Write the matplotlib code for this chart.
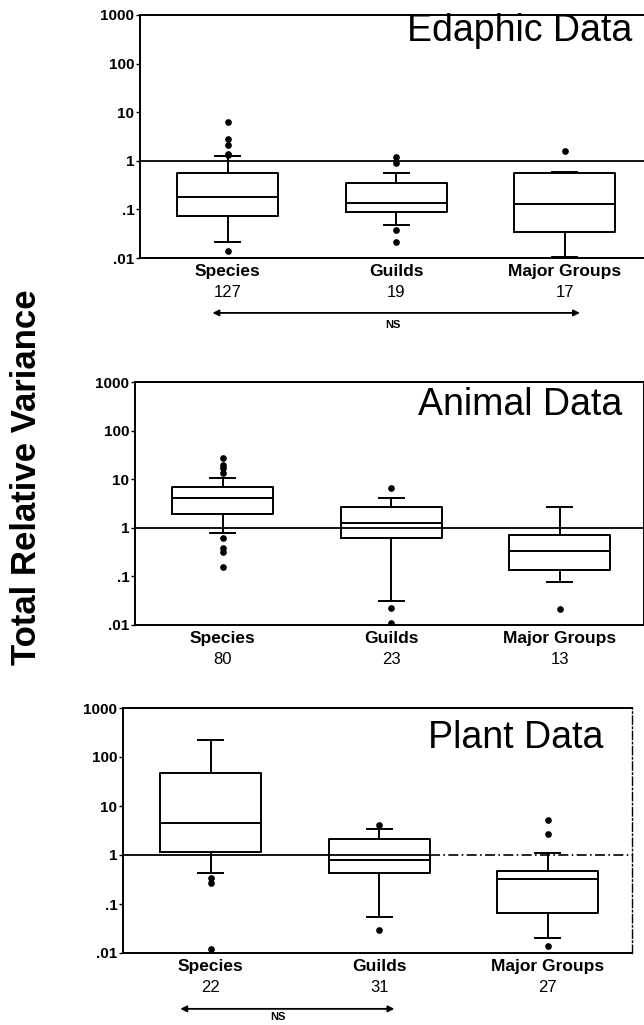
"""Three log-scale box plots of total relative variance (edaphic, animal, plant)."""

import matplotlib
matplotlib.use("Agg", force=True)
import matplotlib.pyplot as plt

plt.rcParams.update({
    "font.family": ["Liberation Sans", "DejaVu Sans"],
})

CATEGORIES = ["Species", "Guilds", "Major Groups"]
Y_TICKS = [0.01, 0.1, 1, 10, 100, 1000]
Y_TICK_LABELS = [".01", ".1", "1", "10", "100", "1000"]

# --- Edaphic data ---
edaphic_n = [127, 19, 17]
edaphic_q1 = [0.074, 0.089, 0.035]
edaphic_med = [0.18, 0.138, 0.13]
edaphic_q3 = [0.57, 0.35, 0.55]
edaphic_whislo = [0.021, 0.048, 0.0105]
edaphic_whishi = [1.23, 0.57, 0.58]
edaphic_fliers = [[6.2, 2.8, 2.1, 1.4, 1.3, 0.014], [1.17, 0.92, 0.038, 0.021], [1.6]]

# --- Animal data ---
animal_n = [80, 23, 13]
animal_q1 = [1.9, 0.61, 0.135]
animal_med = [4.1, 1.26, 0.33]
animal_q3 = [6.9, 2.7, 0.71]
animal_whislo = [0.78, 0.031, 0.076]
animal_whishi = [10.5, 4.1, 2.7]
animal_fliers = [[27, 19.5, 17, 13.5, 0.62, 0.38, 0.32, 0.155], [6.6, 0.022, 0.011], [0.021]]

# --- Plant data ---
plant_n = [22, 31, 27]
plant_q1 = [1.15, 0.43, 0.066]
plant_med = [4.5, 0.79, 0.32]
plant_q3 = [47, 2.1, 0.47]
plant_whislo = [0.43, 0.054, 0.020]
plant_whishi = [223, 3.4, 1.1]
plant_fliers = [[0.34, 0.27, 0.012], [4.0, 0.03], [5.1, 2.7, 0.014]]

PANELS = [
    ("Edaphic Data", edaphic_n, edaphic_q1, edaphic_med, edaphic_q3,
     edaphic_whislo, edaphic_whishi, edaphic_fliers),
    ("Animal Data", animal_n, animal_q1, animal_med, animal_q3,
     animal_whislo, animal_whishi, animal_fliers),
    ("Plant Data", plant_n, plant_q1, plant_med, plant_q3,
     plant_whislo, plant_whishi, plant_fliers),
]

# layout in pixels of the 644x1025 canvas: (left, top, height), title anchor
W, H = 644, 1025
AX_BOX = [(140, 15, 243), (135, 382, 243), (123, 708, 245)]
AX_WIDTH = 509
TITLE_POS = [(0.967, 0.935), (0.957, 0.905), (0.943, 0.878)]


def draw_panel(ax, title, n, q1, med, q3, wlo, whi, fliers, title_xy):
    stats = []
    for i in range(len(CATEGORIES)):
        stats.append({"med": med[i], "q1": q1[i], "q3": q3[i],
                      "whislo": wlo[i], "whishi": whi[i], "fliers": fliers[i]})
    line = dict(color="black", linewidth=1.4)
    ax.bxp(stats, positions=range(len(CATEGORIES)), widths=0.6, capwidths=0.15,
           boxprops=line, medianprops=line, whiskerprops=line, capprops=line,
           flierprops=dict(marker="o", markerfacecolor="black",
                           markeredgecolor="black", markersize=3.8),
           manage_ticks=False)
    ax.set_yscale("log")
    ax.set_ylim(0.01, 1000)
    ax.set_xlim(-0.52, 2.5)
    ax.set_yticks(Y_TICKS, Y_TICK_LABELS)
    ax.minorticks_off()
    ax.set_xticks([])
    ax.tick_params(axis="y", length=3, width=1, pad=1, labelsize=11)
    for lab in ax.get_yticklabels():
        lab.set_fontweight("bold")
    for sp in ax.spines.values():
        sp.set_linewidth(1.4)
    ax.text(*title_xy, title, transform=ax.transAxes, ha="right", va="center",
            fontsize=27)
    for i, cat in enumerate(CATEGORIES):
        ax.annotate(cat, xy=(i, 0), xycoords=("data", "axes fraction"),
                    xytext=(0, -9.5), textcoords="offset points",
                    ha="center", va="center", fontsize=12.5, fontweight="bold")
        ax.annotate(str(n[i]), xy=(i, 0), xycoords=("data", "axes fraction"),
                    xytext=(0, -25), textcoords="offset points",
                    ha="center", va="center", fontsize=12)


def ns_arrow(ax, x0, x1, y, label_x, label_dy):
    ax.annotate("", xy=(x1, y), xytext=(x0, y),
                xycoords=("data", "axes fraction"),
                arrowprops=dict(arrowstyle="<|-|>", color="black", lw=1.3,
                                mutation_scale=9, shrinkA=0, shrinkB=0),
                annotation_clip=False)
    ax.text(label_x, y - label_dy, "NS", transform=ax.get_xaxis_transform(),
            ha="center", va="center", fontsize=8, fontweight="bold")


fig = plt.figure(figsize=(W / 100, H / 100), dpi=100)
axes = []
for (left, top, height), panel, txy in zip(AX_BOX, PANELS, TITLE_POS):
    ax = fig.add_axes([left / W, 1 - (top + height) / H, AX_WIDTH / W, height / H])
    draw_panel(ax, *panel, txy)
    axes.append(ax)

# reference line at 1
axes[0].axhline(1, color="black", linewidth=1.3, zorder=0)
axes[1].axhline(1, color="black", linewidth=1.3, zorder=0)
axes[2].plot([-0.52, 1.3], [1, 1], color="black", linewidth=1.3, zorder=0)
axes[2].plot([1.3, 2.5], [1, 1], color="black", linewidth=1.2,
             linestyle=(0, (6, 2, 1, 2)), zorder=0)
axes[2].spines["right"].set_linestyle((0, (6, 2, 1, 2)))
axes[2].spines["right"].set_linewidth(1.0)

ns_arrow(axes[0], -0.09, 2.09, -0.226, 0.98, 0.05)
ns_arrow(axes[2], -0.18, 1.09, -0.228, 0.40, 0.035)

fig.text(27 / W, 1 - 477 / H, "Total Relative Variance", rotation=90,
         ha="center", va="center", fontsize=25, fontweight="bold")

fig.savefig("out.png", dpi=100)
